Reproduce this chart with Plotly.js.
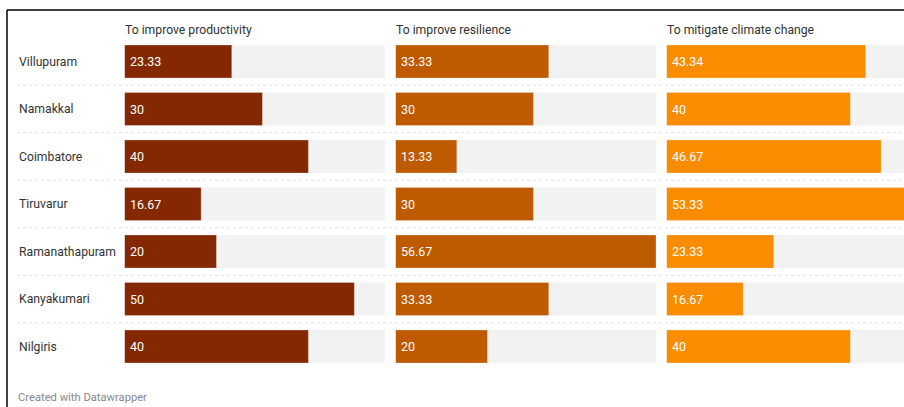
<!DOCTYPE html>
<html>
<head>
<meta charset="utf-8">
<script src="https://cdn.plot.ly/plotly-3.0.1.min.js"></script>
<style>html,body{margin:0;padding:0;background:#fff;}#chart{width:904px;height:407px;}</style>
</head>
<body>
<div id="chart"></div>
<script>
const regions = ['Villupuram','Namakkal','Coimbatore','Tiruvarur','Ramanathapuram','Kanyakumari','Nilgiris'];
const productivity = [23.33, 30, 40, 16.67, 20, 50, 40];
const resilience = [33.33, 30, 13.33, 30, 56.67, 33.33, 20];
const climate = [43.34, 40, 46.67, 53.33, 23.33, 16.67, 40];
const panelTitles = ['To improve productivity', 'To improve resilience', 'To mitigate climate change'];
const colors = ['#832800', '#BE5A00', '#FA8C00'];

const series = [productivity, resilience, climate];
const maxVal = Math.max(...productivity, ...resilience, ...climate);
const W = 904, H = 407;
const panelLeft = [124.5, 395.5, 666.5];
const panelW = 260.5;
const axisNames = ['x', 'x2', 'x3'];

const traces = [];
const annotations = [];
series.forEach((vals, k) => {
  traces.push({
    type: 'bar', orientation: 'h', x: regions.map(() => maxVal), y: regions,
    xaxis: axisNames[k], yaxis: 'y',
    marker: {color: '#F2F2F2'}, hoverinfo: 'skip', showlegend: false
  });
  traces.push({
    type: 'bar', orientation: 'h', x: vals, y: regions,
    xaxis: axisNames[k], yaxis: 'y',
    marker: {color: colors[k], line: {color: 'rgba(255,255,255,0.35)', width: 0.8}},
    showlegend: false
  });
  vals.forEach((v, i) => {
    annotations.push({
      xref: axisNames[k], yref: 'y', x: 0, y: regions[i], xanchor: 'left', yanchor: 'middle',
      xshift: 3.5, text: String(v), showarrow: false,
      font: {family: 'Roboto', size: 12.5, color: '#ffffff'}
    });
  });
  annotations.push({
    xref: 'paper', yref: 'paper', x: (panelLeft[k] - 1.5) / W, y: 1 - 30 / H,
    xanchor: 'left', yanchor: 'middle', text: panelTitles[k], showarrow: false,
    font: {family: 'Roboto', size: 12.2, color: '#333333'}
  });
});
regions.forEach((r) => {
  annotations.push({
    xref: 'paper', yref: 'y', x: 16.5 / W, y: r, xanchor: 'left', yanchor: 'middle',
    text: r, showarrow: false, font: {family: 'Roboto', size: 12.2, color: '#333333'}
  });
});
annotations.push({
  xref: 'paper', yref: 'paper', x: 16 / W, y: 1 - 397 / H, xanchor: 'left', yanchor: 'middle',
  text: 'Created with Datawrapper', showarrow: false,
  font: {family: 'Roboto', size: 11.2, color: '#888888'}
});

const shapes = [];
for (let i = 0; i < regions.length - 1; i++) {
  shapes.push({type: 'line', xref: 'paper', yref: 'y', x0: 17 / W, x1: 1, y0: i + 0.5, y1: i + 0.5,
    line: {color: '#e2e2e2', width: 1, dash: 'dot'}, layer: 'below'});
}
shapes.push({type: 'line', xref: 'paper', yref: 'paper', x0: 7 / W, x1: 1, y0: 1 - 10 / H, y1: 1 - 10 / H,
  line: {color: '#000', width: 1.5}});
shapes.push({type: 'line', xref: 'paper', yref: 'paper', x0: 7 / W, x1: 7 / W, y0: 0, y1: 1 - 10 / H,
  line: {color: '#000', width: 1.5}});

function xa(k) {
  const left = panelLeft[k];
  const right = Math.min(left + panelW, W);
  return {
    domain: [left / W, right / W], range: [0, maxVal * (right - left) / panelW],
    visible: false, showgrid: false, zeroline: false, fixedrange: true, anchor: 'y'
  };
}

const layout = {
  width: W, height: H, margin: {l: 0, r: 0, t: 0, b: 0},
  paper_bgcolor: '#fff', plot_bgcolor: 'rgba(0,0,0,0)',
  barmode: 'overlay', bargap: 0.305,
  xaxis: xa(0), xaxis2: xa(1), xaxis3: xa(2),
  yaxis: {type: 'category', categoryarray: regions, categoryorder: 'array', range: [6.5, -0.5],
    domain: [1 - 370.25 / H, 1 - 37.75 / H], visible: false, showgrid: false, fixedrange: true},
  annotations: annotations, shapes: shapes,
  font: {family: 'Roboto'}
};

Plotly.newPlot('chart', traces, layout, {displayModeBar: false, staticPlot: true});
</script>
</body>
</html>
